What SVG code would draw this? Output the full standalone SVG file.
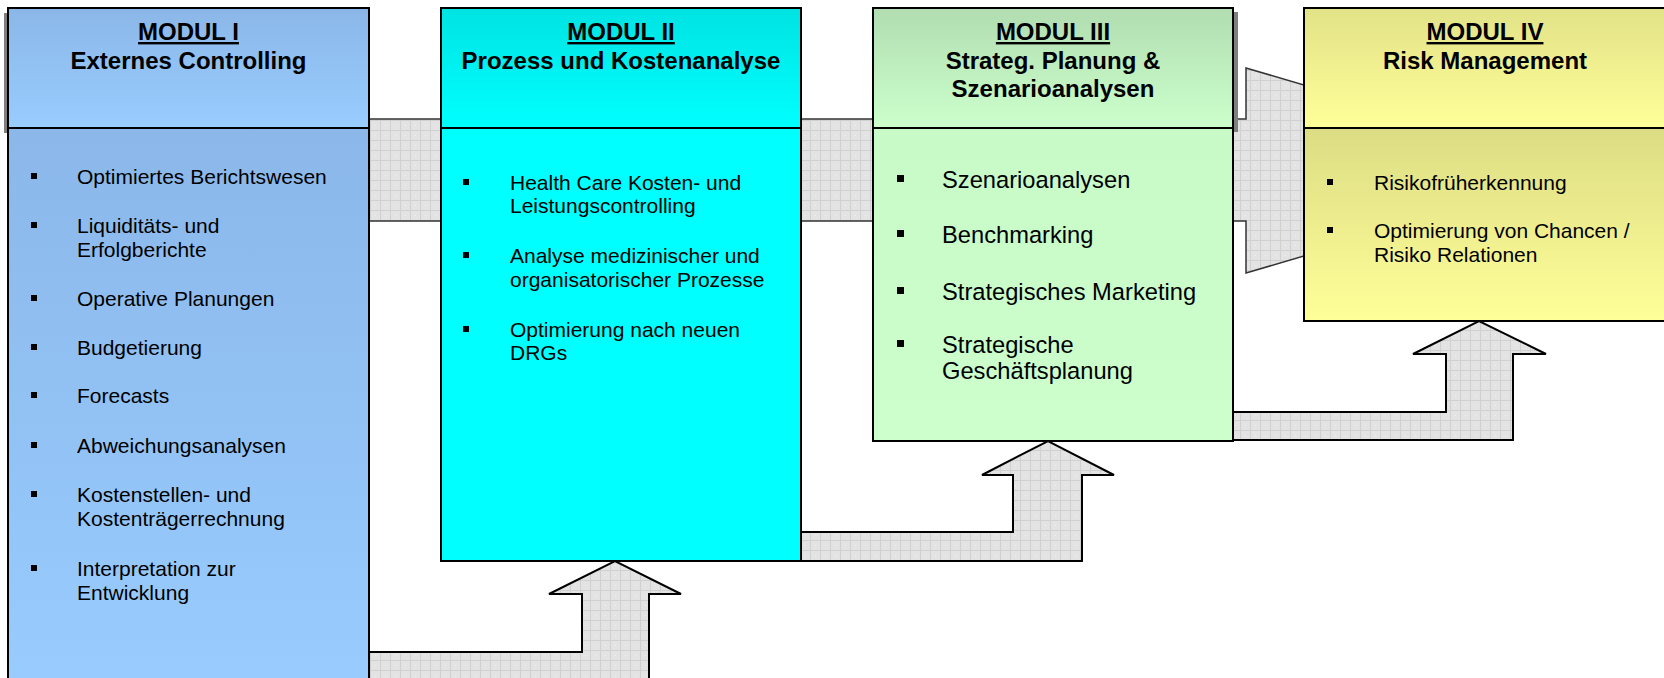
<svg xmlns="http://www.w3.org/2000/svg" width="1664" height="678" viewBox="0 0 1664 678">
<style>
.hd { font-family: "Liberation Sans", Arial, sans-serif; font-weight: bold; font-size: 24px; text-anchor: middle; fill: #000; }
.ul { text-decoration: underline; }
.b { font-family: "Liberation Sans", Arial, sans-serif; font-size: 21px; fill: #000; }
.b3 { font-size: 23.7px; }
.box { stroke: #000; stroke-width: 2; }
.bul { fill: #000; }
.arr { fill: url(#grid); stroke: #000; stroke-width: 2; stroke-linejoin: miter; }
.band { fill: url(#grid); stroke: #333; stroke-width: 1.5; }
.shadow { fill: #7f7f7f; }
</style>
<defs>
<pattern id="grid" width="10" height="10" patternUnits="userSpaceOnUse">
<rect width="10" height="10" fill="#E3E3E3"/>
<path d="M0 0.5H10M0.5 0V10" stroke="#D0D0D0" stroke-width="1"/>
<rect x="5" y="5" width="1" height="1" fill="#F0F0F0"/>
</pattern>
<linearGradient id="g1h" x1="0" y1="0" x2="0" y2="1"><stop offset="0" stop-color="#8BB7E8"/><stop offset="1" stop-color="#99CCFF"/></linearGradient>
<linearGradient id="g1b" x1="0" y1="0" x2="0" y2="1"><stop offset="0" stop-color="#8BB7E9"/><stop offset="1" stop-color="#99CCFF"/></linearGradient>
<linearGradient id="g2h" x1="0" y1="0" x2="0" y2="1"><stop offset="0" stop-color="#00E3E3"/><stop offset="1" stop-color="#00FFFF"/></linearGradient>
<linearGradient id="g3h" x1="0" y1="0" x2="0" y2="1"><stop offset="0" stop-color="#B1DDB1"/><stop offset="1" stop-color="#CCFFCC"/></linearGradient>
<linearGradient id="g3b" x1="0" y1="0" x2="0" y2="1"><stop offset="0" stop-color="#C8FAC8"/><stop offset="1" stop-color="#CCFFCC"/></linearGradient>
<linearGradient id="g4h" x1="0" y1="0" x2="0" y2="1"><stop offset="0" stop-color="#E2E288"/><stop offset="1" stop-color="#FFFF99"/></linearGradient>
<linearGradient id="g4b" x1="0" y1="0" x2="0" y2="1"><stop offset="0" stop-color="#DCDC84"/><stop offset="1" stop-color="#FFFF99"/></linearGradient>
</defs>
<rect width="1664" height="678" fill="#fff"/>

<g id="connectors">
<polygon class="band" points="360,119 1246,119 1246,68 1304,85 1304,256 1246,273 1246,221 360,221"/>
<polygon class="arr" points="360,652 582,652 582,594 549,594 615,561 681,594 649,594 649,692 360,692"/>
<polygon class="arr" points="795,532 1013,532 1013,475 982,475 1048,441 1114,475 1082,475 1082,561 795,561"/>
<polygon class="arr" points="1228,412 1446,412 1446,354 1413,354 1479,321 1546,354 1513,354 1513,440 1228,440"/>
</g>

<g id="module1">
<rect class="shadow" x="4" y="13" width="5" height="120"/>
<rect class="box" x="8" y="128" width="361" height="570" fill="url(#g1b)"/>
<rect class="box" x="8" y="8" width="361" height="120" fill="url(#g1h)"/>
<text class="hd ul" x="188.5" y="40">MODUL I</text>
<text class="hd" x="188.5" y="69">Externes Controlling</text>
<rect class="bul" x="31" y="173" width="6" height="6"/>
<text class="b" x="77" y="184">Optimiertes Berichtswesen</text>
<rect class="bul" x="31" y="222" width="6" height="6"/>
<text class="b" x="77" y="233">Liquiditäts- und</text>
<text class="b" x="77" y="257">Erfolgberichte</text>
<rect class="bul" x="31" y="295" width="6" height="6"/>
<text class="b" x="77" y="306">Operative Planungen</text>
<rect class="bul" x="31" y="344" width="6" height="6"/>
<text class="b" x="77" y="355">Budgetierung</text>
<rect class="bul" x="31" y="392" width="6" height="6"/>
<text class="b" x="77" y="403">Forecasts</text>
<rect class="bul" x="31" y="442" width="6" height="6"/>
<text class="b" x="77" y="453">Abweichungsanalysen</text>
<rect class="bul" x="31" y="491" width="6" height="6"/>
<text class="b" x="77" y="502">Kostenstellen- und</text>
<text class="b" x="77" y="526">Kostenträgerrechnung</text>
<rect class="bul" x="31" y="565" width="6" height="6"/>
<text class="b" x="77" y="576">Interpretation zur</text>
<text class="b" x="77" y="600">Entwicklung</text>
</g>

<g id="module2">
<rect class="box" x="441" y="128" width="360" height="433" fill="#00FFFF"/>
<rect class="box" x="441" y="8" width="360" height="120" fill="url(#g2h)"/>
<text class="hd ul" x="621" y="40">MODUL II</text>
<text class="hd" x="621" y="69">Prozess und Kostenanalyse</text>
<rect class="bul" x="463" y="179" width="6" height="6"/>
<text class="b" x="510" y="190">Health Care Kosten- und</text>
<text class="b" x="510" y="213">Leistungscontrolling</text>
<rect class="bul" x="463" y="252" width="6" height="6"/>
<text class="b" x="510" y="263">Analyse medizinischer und</text>
<text class="b" x="510" y="287">organisatorischer Prozesse</text>
<rect class="bul" x="463" y="326" width="6" height="6"/>
<text class="b" x="510" y="337">Optimierung nach neuen</text>
<text class="b" x="510" y="360">DRGs</text>
</g>

<g id="module3">
<rect class="shadow" x="1233" y="12" width="5" height="120"/>
<rect class="box" x="873" y="128" width="360" height="313" fill="url(#g3b)"/>
<rect class="box" x="873" y="8" width="360" height="120" fill="url(#g3h)"/>
<text class="hd ul" x="1053" y="40">MODUL III</text>
<text class="hd" x="1053" y="69">Strateg. Planung &amp;</text>
<text class="hd" x="1053" y="97">Szenarioanalysen</text>
<rect class="bul" x="897" y="175" width="7" height="7"/>
<text class="b b3" x="942" y="188">Szenarioanalysen</text>
<rect class="bul" x="897" y="230" width="7" height="7"/>
<text class="b b3" x="942" y="243">Benchmarking</text>
<rect class="bul" x="897" y="287" width="7" height="7"/>
<text class="b b3" x="942" y="300">Strategisches Marketing</text>
<rect class="bul" x="897" y="340" width="7" height="7"/>
<text class="b b3" x="942" y="353">Strategische</text>
<text class="b b3" x="942" y="379">Geschäftsplanung</text>
</g>

<g id="module4">
<rect class="box" x="1304" y="128" width="362" height="193" fill="url(#g4b)"/>
<rect class="box" x="1304" y="8" width="362" height="120" fill="url(#g4h)"/>
<text class="hd ul" x="1485" y="40">MODUL IV</text>
<text class="hd" x="1485" y="69">Risk Management</text>
<rect class="bul" x="1327" y="179" width="6" height="6"/>
<text class="b" x="1374" y="190">Risikofrüherkennung</text>
<rect class="bul" x="1327" y="227" width="6" height="6"/>
<text class="b" x="1374" y="238">Optimierung von Chancen /</text>
<text class="b" x="1374" y="262">Risiko Relationen</text>
</g>
</svg>
